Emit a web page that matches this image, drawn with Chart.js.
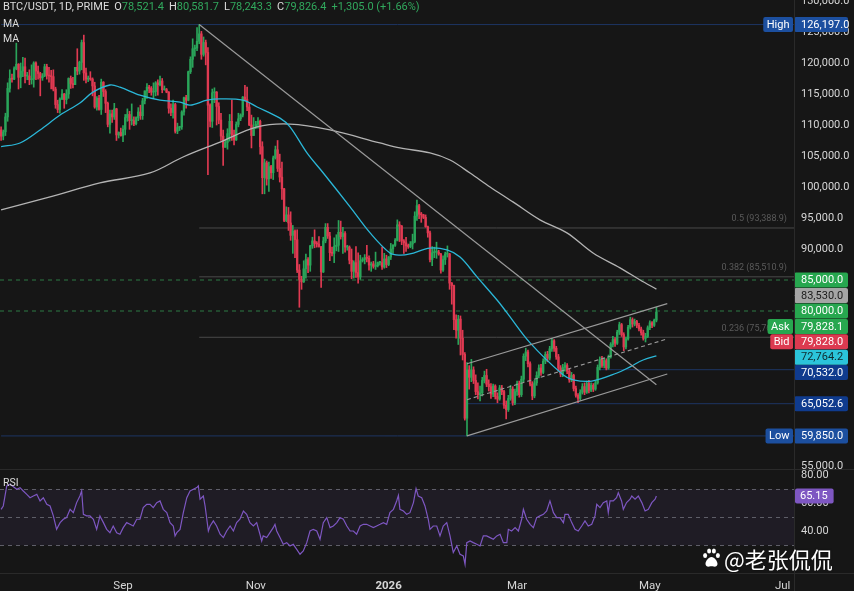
<!DOCTYPE html>
<html>
<head>
<meta charset="utf-8">
<title>BTC/USDT 1D</title>
<script src="https://cdn.jsdelivr.net/npm/chart.js@4.4.1/dist/chart.umd.min.js"></script>
<style>
html,body{margin:0;padding:0;background:#161616;}
#wrap{position:relative;width:854px;height:591px;overflow:hidden;background:#161616;font-family:Roboto,"Noto Sans",Arial,sans-serif;}
#wrap canvas{position:absolute;left:0;top:0;}
.t{position:absolute;left:3px;color:#dcdcdc;font-size:10.5px;line-height:12px;white-space:nowrap;}
#hdr{font-size:11px;}
.t .g{color:#31a85d;}
.t .k{margin-left:5px;}
#wm{position:absolute;left:702px;top:545px;height:26px;display:flex;align-items:center;color:#fff;font-family:"Noto Sans CJK SC",sans-serif;font-size:22px;line-height:26px;white-space:nowrap;text-shadow:0 0 2px rgba(0,0,0,.6);}
#wm svg{margin-right:3px;}
</style>
</head>
<body>
<div id="wrap">
  <canvas id="priceCanvas" width="854" height="591"></canvas>
  <canvas id="rsiCanvas" width="854" height="591"></canvas>
  <div class="t" id="hdr" style="top:1px"></div>
  <div class="t" style="top:18px">MA</div>
  <div class="t" style="top:33px">MA</div>
  <div class="t" style="top:477px">RSI</div>
  <div id="wm"><svg width="19" height="20" viewBox="0 0 18 20"><g fill="#fff"><ellipse cx="2.6" cy="7.5" rx="2" ry="2.6"/><ellipse cx="6.6" cy="3" rx="2" ry="2.6"/><ellipse cx="11.4" cy="3" rx="2" ry="2.6"/><ellipse cx="15.4" cy="7.5" rx="2" ry="2.6"/><path d="M9 9c-3 0-6 4-6 7 0 2 2 3 4 2.5 1.2-.3 2.8-.3 4 0 2 .5 4-.5 4-2.5 0-3-3-7-6-7z"/></g></svg>@老张侃侃</div>
</div>
<script>
// ---------------- DATA ----------------
const startDate = '2025-07-07';   // first daily candle

const opens = [
 // Jul 7-31
 109200,108200,108900,111300,115900,117500,117400,119100,119800,117700,118700,119400,117900,117900,117300,117400,120000,118700,118300,117600,117900,119400,118000,117900,117800,
 // Aug
 115800,113300,112500,114200,115000,114100,115000,117500,116700,116500,119300,118700,120100,123300,118400,117400,117500,117400,116300,112900,114300,112500,116900,115400,113500,110100,111800,111300,112600,108400,108800,
 // Sep
 108300,109300,111200,111700,110700,110700,110200,111200,112100,111500,113900,115500,116100,115900,115300,115400,116800,116500,117100,115700,115700,115300,112700,112000,113300,109000,109600,109700,112100,114400,
 // Oct
 114000,118600,120600,122300,122400,123500,124700,121400,123300,121700,113200,110600,115200,115300,113000,110800,108200,106400,107200,108600,110600,108400,107600,110100,111000,111600,114500,114100,112900,110000,108300,
 // Nov
 109600,110100,110600,106500,101500,103900,101300,103300,102300,104700,106000,103000,101600,99700,94600,95500,94200,92200,92900,91500,86600,85100,84700,86800,88300,87400,90500,91300,90900,90800,
 // Dec
 90400,86300,91300,93500,92100,89400,89300,90400,90600,92700,92000,92500,90300,90300,88200,86400,87800,86200,85500,88100,88300,88600,88500,87400,87600,87200,87300,87800,87800,87100,88400,
 // Jan 2026
 87500,88700,90000,90600,91400,93900,93700,91300,91000,90500,90400,90800,91200,95300,97000,95600,95500,95100,93600,92600,88300,89400,89500,89500,89200,86600,88300,89200,89200,84500,84100,
 // Feb
 78600,76900,78700,75600,73000,62700,70500,69300,70500,68800,67000,66500,66800,68800,69600,68200,67800,66600,67900,66200,65800,67600,67000,64800,64100,65900,67400,65200,
 // Mar
 67000,68300,66500,69000,72700,73400,71500,68200,66300,68400,69600,70800,70100,71900,73000,72400,73900,75200,74000,72600,70800,69800,70900,71200,70300,68900,69600,67500,66400,65900,66900,
 // Apr
 67800,66900,68300,67200,68000,67400,68400,70900,72200,71200,72000,70800,72600,74600,75400,74800,76600,77800,76200,74200,75500,77400,78600,77900,78300,77700,77100,76500,75600,75900,
 // May 1-4
 77300,78100,77700,78521.4
];
const highs = [
 109700,109200,111900,116800,118900,118200,119400,123200,119900,120000,120900,120800,118500,118900,119700,120200,120200,119500,118500,118300,119800,119800,119300,118800,118900,
 116100,114000,114400,115700,115100,115700,117600,117900,117700,119300,122300,120300,123700,124500,119200,117900,118600,117600,116900,114600,114800,117400,117000,115700,113700,112400,112400,113500,112700,108900,109500,
 109900,111700,112600,112200,113400,111300,111300,112800,113200,114300,115500,116700,116400,116200,116800,117000,117300,117900,117500,116300,115900,115400,113400,114000,113500,110300,109800,112300,114500,114800,
 118700,121000,123900,122900,125700,126197,125100,124200,123700,122500,113400,115800,116000,115400,113600,111900,109200,107500,109400,111700,114000,109200,110500,111900,111800,114600,116400,116100,113600,111600,111200,
 110600,111200,110800,107300,104500,104200,104000,103500,105000,106600,107500,105300,104000,99800,96800,96700,96000,93800,93100,93100,87500,85600,88100,89200,88600,90600,91900,93100,91200,92000,
 90400,91900,94100,94100,92700,90300,91800,92300,94600,94500,93500,92800,90600,90500,90000,88100,90400,89400,89000,88600,89100,90600,88900,87900,88000,89500,87900,88000,90300,89300,89000,
 88800,90900,90700,91700,94700,94400,93800,91500,91900,90800,91200,92400,96000,97900,97200,95900,95600,95500,93700,92900,90400,90300,91100,89800,89300,88900,89500,90500,89300,84600,84200,
 79400,79300,79200,76900,73300,71700,71200,72200,71000,69700,68400,67900,69300,70300,70600,68900,68300,68200,68100,66800,68000,68000,67200,65500,66400,68000,67800,67400,
 68700,68700,69500,73100,74000,73700,71800,68600,68800,70200,71300,71400,72300,73400,73500,74300,75600,75400,74300,73000,71200,71400,71700,71500,70700,70100,69800,67900,66700,67300,68300,
 68400,68700,68800,68400,68300,68700,71300,72600,72700,72400,72300,72900,74900,75900,75700,76900,78200,78000,76500,75800,77700,79000,78900,78700,78500,78000,77400,76900,76400,77600,
 78400,78300,78700,80581.7
];
const lows = [
 107500,107600,108300,110600,115300,116900,117300,118900,115800,116000,117800,116800,117300,116500,116600,116100,117300,117400,114700,117200,117800,117400,116900,115800,115500,
 112700,112000,111900,114100,112700,113400,114300,115900,116000,116500,118100,118200,118900,117200,116800,117000,117200,114700,112700,112400,112400,111700,114600,112000,109700,108700,110400,110900,107500,107900,108200,
 107300,108400,110600,109300,110000,109900,110000,110700,110900,110900,113400,114300,115200,114800,114400,114700,114800,116300,115200,115600,115200,111900,111500,111100,108700,108600,109100,109300,111600,112700,
 113900,118300,119300,121100,122000,123100,120600,121100,119700,102000,109700,109600,113600,110000,110200,107500,103500,106400,106100,107400,107500,106800,107500,109700,110700,111300,113900,112300,109900,106300,108300,
 109400,109500,105300,98900,98900,100300,99300,101400,101200,104500,102500,100800,98000,94400,94400,93000,91400,89300,88600,86200,80600,83500,84600,85300,86200,86400,90100,90200,90300,90300,
 83800,86200,91000,91700,88100,88900,87800,89700,89600,91600,89300,89500,89800,87600,85200,85300,85400,84500,85100,87900,87600,87900,86600,86400,86900,86700,87100,87400,86700,86900,87000,
 87300,88300,89300,90400,91300,91200,90700,89300,89600,90100,90200,90000,91000,94600,94900,94300,94900,93500,91900,87900,87300,88600,88500,89000,86100,86400,87500,88700,83500,81100,77000,
 75600,74600,72900,72100,62400,59850,67400,68600,68300,66500,65800,65500,66300,68400,67800,67100,65900,66200,65800,65200,65600,66500,64300,62600,63800,65600,64800,64900,
 66400,66100,66200,68600,72000,71000,67900,65700,66000,68000,69200,69600,69900,71500,71800,72100,73500,73500,72200,70300,69400,69400,70300,69900,68500,68600,67100,66100,65200,65600,66600,
 66500,66700,66800,67000,67000,67200,68200,70500,70900,70800,70500,70600,72400,74200,74300,74600,76200,75900,73600,73900,75300,77100,77400,77600,77300,76800,76100,75300,75000,75700,
 77000,77300,77500,78243.3
];
const closes = [
 108200,108900,111300,115900,117500,117400,119100,119800,117700,118700,119400,117900,117900,117300,117400,120000,118700,118300,117600,117900,119400,118000,117900,117800,115800,
 113300,112500,114200,115000,114100,115000,117500,116700,116500,119300,118700,120100,123300,118400,117400,117500,117400,116300,112900,114300,112500,116900,115400,113500,110100,111800,111300,112600,108400,108800,108300,
 109300,111200,111700,110700,110700,110200,111200,112100,111500,113900,115500,116100,115900,115300,115400,116800,116500,117100,115700,115700,115300,112700,112000,113300,109000,109600,109700,112100,114400,114000,
 118600,120600,122300,122400,123500,124700,121400,123300,121700,113200,110600,115200,115300,113000,110800,108200,106400,107200,108600,110600,108400,107600,110100,111000,111600,114500,114100,112900,110000,108300,109600,
 110100,110600,106500,101500,103900,101300,103300,102300,104700,106000,103000,101600,99700,94600,95500,94200,92200,92900,91500,86600,85100,84700,86800,88300,87400,90500,91300,90900,90800,90400,
 86300,91300,93500,92100,89400,89300,90400,90600,92700,92000,92500,90300,90300,88200,86400,87800,86200,85500,88100,88300,88600,88500,87400,87600,87200,87300,87800,87800,87100,88400,87500,
 88700,90000,90600,91400,93900,93700,91300,91000,90500,90400,90800,91200,95300,97000,95600,95500,95100,93600,92600,88300,89400,89500,89500,89200,86600,88300,89200,89200,84500,84100,78600,
 76900,78700,75600,73000,62700,70500,69300,70500,68800,67000,66500,66800,68800,69600,68200,67800,66600,67900,66200,65800,67600,67000,64800,64100,65900,67400,65200,67000,
 68300,66500,69000,72700,73400,71500,68200,66300,68400,69600,70800,70100,71900,73000,72400,73900,75200,74000,72600,70800,69800,70900,71200,70300,68900,69600,67500,66400,65900,66900,67800,
 66900,68300,67200,68000,67400,68400,70900,72200,71200,72000,70800,72600,74600,75400,74800,76600,77800,76200,74200,75500,77400,78600,77900,78300,77700,77100,76500,75600,75900,77300,
 78100,77700,78521.4,79826.4
];

// moving averages as [days since 2025-09-01, price]
const maFastPts = [[-56,106500],[-47.3,107100],[-38.1,109200],[-28.9,111600],[-19.8,113550],[-13.8,115300],[-6,116450],[-1.4,116100],[7.8,114800],[17,114000],[26.2,113700],[30.8,113200],[38.6,114000],[44.6,114200],[55.1,114000],[61.6,112900],[72.1,111100],[76.7,109700],[84.5,105500],[91.9,102300],[104.3,96800],[113.5,92600],[122.6,89350],[127.2,89000],[131.8,89200],[141,90150],[148.8,89840],[154.8,88700],[162.6,85500],[171.8,81770],[176.4,79700],[187,74850],[202.1,69700],[206.7,68900],[215.4,68700],[226.9,70000],[232.9,71000],[238.9,72100],[245,72764.2]];
const maSlowPts = [[-56,96300],[-33.5,98400],[-10.6,100650],[12.4,102260],[27.6,104840],[44.6,107250],[61.6,109700],[76.7,110150],[95.1,109200],[118,107100],[127.2,106300],[141,105500],[150.2,104350],[159.4,102250],[168.6,100000],[179.1,97600],[191.5,94700],[203.9,92600],[215.9,89350],[228.3,86950],[237.5,85000],[245,83530]];

// RSI as [days since 2025-09-01, value]
const rsiPts = [[-56,55.7],[-55,58.1],[-53.4,72.4],[-51.9,73.6],[-48.8,70],[-47.3,71.2],[-45.8,68.8],[-44.2,66.4],[-42.7,64],[-41.2,65.2],[-39.6,66.4],[-38.1,61.7],[-36.6,64],[-35,59.3],[-33.5,58.1],[-32,51],[-30.5,41.4],[-28.9,46.2],[-27.4,48.6],[-25.9,49.8],[-24.3,55.7],[-22.8,53.3],[-21.3,60.5],[-19.8,65.2],[-19,68.8],[-18.2,52.1],[-16.7,51],[-15.2,51],[-13.6,48.6],[-12.1,41.4],[-10.6,51],[-9,46.2],[-7.5,41.4],[-6,39],[-4.5,43.8],[-2.9,39],[-1.4,37.9],[0.1,42.6],[1.7,46.2],[3.2,45],[4.7,43.8],[6.3,48.6],[7.8,48.6],[9.3,56.9],[10.9,59.3],[12.4,59.3],[13.9,56.9],[15.5,60.5],[17,61.7],[18.5,55.7],[20.1,53.3],[21.6,46.2],[23.1,43.8],[23.9,36.7],[24.7,39],[26.2,41.4],[27.7,53.3],[29.3,64],[30.8,68.8],[32.3,70],[33.9,71.2],[34.6,72.4],[35.4,62.9],[36.9,65.2],[37.7,58.1],[39.2,40.2],[40,43.8],[41.5,47.4],[43,43.8],[44.6,37.9],[46.1,35.5],[47.6,40.2],[49.2,43.8],[50.7,40.2],[52.2,46.2],[53.7,48.6],[55.3,54.5],[56.8,52.1],[58.3,46.2],[59.9,43.8],[61.4,46.2],[62.9,37.9],[63.7,33.1],[64.4,36.7],[66,35.5],[67.5,39],[69,42.6],[69.8,45],[70.6,40.2],[72.1,35.5],[73.6,30.7],[75.2,31.9],[76.7,29.5],[78.2,30.7],[79.8,27.1],[81.3,23.6],[82.8,26],[84.4,31.9],[85.9,40.2],[87.4,41.4],[89,40.2],[90.5,34.3],[92,46.2],[93.6,49.8],
 [95.1,42.6],[96.6,43.8],[98.2,46.2],[99.7,49.8],[101.2,48.6],[102.8,43.8],[104.3,40.2],[105.8,40.2],[107.3,37.9],[108.9,43.8],[110.4,45],[111.9,45],[113.5,43.8],[115,42.6],[116.5,43.8],[118.1,45],[119.6,46.2],[121.1,45],[122.6,53.3],[124.2,55.7],[125.7,61.7],[126.5,65.7],[127.2,55.7],[128.8,54.5],[130.3,52.1],[131.8,53.3],[133.4,60.5],[134.6,70.5],[135.6,65.2],[137.2,64],[138.7,58.1],[140.2,48.6],[141,41.4],[142.5,43.8],[144.1,43.8],[145.6,36.7],[147.1,43.8],[148.7,46.2],[150.2,36.7],[151.7,24.8],[153.3,29.5],[154.8,23.6],[156.3,22.4],[157.1,16.4],[157.9,31.9],[159.4,33.1],[160.9,31.9],[162.5,30.7],[164,29.5],[165.5,36.7],[167,36.7],[168.6,35.5],[170.1,34.3],[171.7,36.7],[173.2,37.9],[174.7,31.9],[176.3,31.9],[177,41.4],[178.5,40.2],[180.1,42.6],[181.6,40.2],[183.1,48.6],[183.9,55.7],[185.4,48.6],[187,45],[188.5,42.6],[190,49.8],[191.5,51],[193.1,52.1],[194.6,54.5],[196.1,61.7],[197.7,53.3],[199.2,49.8],[200.7,49.8],[202.3,46.2],[203,52.1],[204.5,52.1],[206.1,46.2],[207.6,41.4],[209.1,40.2],[210.7,43.8],[212.2,47.4],[213.7,43.8],[215.3,45],[216.8,51],[217.6,59.3],[219.1,56.9],[220.6,60.5],[222.2,61.7],[222.9,53.3],[223.7,61.7],[225.2,61.7],[226.7,64],[227.5,67.6],[229,61.7],[229.8,55.7],[231.3,60.5],[232.9,62.9],[233.7,65.2],[235.2,62.9],[236.7,65.2],[238.3,60.5],[239.8,54.5],[241.3,55.7],[242.9,60.5],[244.4,62.9],[245,65.15]];

const priceTicks = [55000,60000,65000,70000,75000,80000,85000,90000,95000,100000,105000,110000,115000,120000,125000,130000];
const rsiTicks = [40,60,80];
const rsiGuides = [70,50,30];
const rsiBand = [70,30];
const monthDates = ['2025-09-01','2025-11-01','2026-01-01','2026-03-01','2026-05-01','2026-07-01'];
const monthLabels = ['Sep','Nov','2026','Mar','May','Jul'];

// Fibonacci retracement levels
const fibRatios = ['0.5','0.382','0.236'];
const fibValues = [93388.9,85510.9,75762.9];
const fibFrom = '2025-10-06';
// alert lines (dashed green)
const alertValues = [85000,80000];
// horizontal price levels (navy)
const levelValues = [126197.0,70532.0,65052.6,59850.0];
const levelFrom = ['2025-07-07','2026-04-08','2026-02-06','2025-07-07'];
// trend lines and channel: [date, price]
const trendDown = [['2025-10-06',126197],['2026-05-04',68100]];
const channelUpper = [['2026-02-06',71500],['2026-05-09',81200]];
const channelMid = [['2026-02-06',65700],['2026-05-09',75500]];
const channelLower = [['2026-02-06',59850],['2026-05-09',69840]];

// right-axis price tags
const badgeValues = [126197.0,85000.0,83530.0,80000.0,79828.1,79828.0,72764.2,70532.0,65052.6,59850.0];
const badgeTags = ['High','','','','Ask','Bid','','','','Low'];
const badgeKinds = ['extreme','alert','maSlow','alert','ask','bid','maFast','level','level','extreme'];

// ---------------- VIEW / STYLE ----------------
const DAY = 86400000, BASE = Date.UTC(2025,8,1);
const dayOf = iso => (Date.parse(iso+'T00:00:00Z') - BASE) / DAY;
const xMin = dayOf(startDate) - 0.5, xMax = xMin + 364.7;
const priceMin = 54355, priceMax = 130161;
const rsiMin = 10.2, rsiMax = 83.8;
const UP = '#2aa55a', DOWN = '#e03a52';
const kindStyle = {
  extreme:{bg:'#1c4f9f',fg:'#ffffff'}, alert:{bg:'#27a74f',fg:'#ffffff'}, maSlow:{bg:'#a5a5a5',fg:'#1b1b1b'},
  ask:{bg:'#27a74f',fg:'#ffffff'}, bid:{bg:'#dc3a50',fg:'#ffffff'}, maFast:{bg:'#2bc4da',fg:'#102a2e'},
  level:{bg:'#0f3b8e',fg:'#ffffff'}
};
const f1 = v => Number(v).toLocaleString('en-US',{minimumFractionDigits:1,maximumFractionDigits:1});
Chart.defaults.font.family = 'Roboto, "Noto Sans", Arial, sans-serif';
Chart.defaults.color = '#d6d6d6';

// ---------------- header ----------------
(function(){
  const n = closes.length - 1;
  const chg = closes[n] - opens[n], pct = chg / opens[n] * 100;
  const sg = chg >= 0 ? '+' : '';
  document.getElementById('hdr').innerHTML =
    'BTC/USDT, 1D, PRIME' +
    '<span class="k">O<span class="g">' + f1(opens[n]) + '</span></span>' +
    '<span class="k">H<span class="g">' + f1(highs[n]) + '</span></span>' +
    '<span class="k">L<span class="g">' + f1(lows[n]) + '</span></span>' +
    '<span class="k">C<span class="g">' + f1(closes[n]) + '</span></span>' +
    '<span class="k g">' + sg + f1(chg) + ' (' + sg + pct.toFixed(2) + '%)</span>';
})();

// ---------------- helpers ----------------
const x0 = dayOf(startDate);
const days = closes.map((_, i) => x0 + i);
const candleColors = closes.map((c, i) => c >= opens[i] ? UP : DOWN);
const seg = pts => pts.map(([d, v]) => ({x: dayOf(d), y: v}));
const pairs = pts => pts.map(([d, v]) => ({x: d, y: v}));
function lineDs(data, color, width, dash, order){
  return {type:'line', data, borderColor:color, borderWidth:width, borderDash:dash || [], pointRadius:0, tension:0, order, parsing:true};
}
function roundRect(ctx,x,y,w,h,r){ctx.beginPath();ctx.moveTo(x+r,y);ctx.arcTo(x+w,y,x+w,y+h,r);ctx.arcTo(x+w,y+h,x,y+h,r);ctx.arcTo(x,y+h,x,y,r);ctx.arcTo(x,y,x+w,y,r);ctx.closePath();}

const hDatasets = [];
fibValues.forEach(v => hDatasets.push(lineDs([{x:dayOf(fibFrom),y:v},{x:xMax,y:v}], '#4a4a4a', 1, null, 20)));
alertValues.forEach(v => hDatasets.push(lineDs([{x:xMin,y:v},{x:xMax,y:v}], '#2d7a44', 1, [4,4], 20)));
levelValues.forEach((v, i) => hDatasets.push(lineDs([{x:dayOf(levelFrom[i]),y:v},{x:xMax,y:v}], '#1d3563', 1, null, 20)));

// ---------------- price chart ----------------
const pricePlugin = {
  id:'pricePlugin',
  afterDatasetsDraw(chart){
    const {ctx, chartArea:a, scales:{y}} = chart;
    ctx.save();
    ctx.font = '9px Roboto, "Noto Sans", sans-serif';
    ctx.fillStyle = '#5a5a5a'; ctx.textAlign = 'right'; ctx.textBaseline = 'middle';
    fibValues.forEach((v, i) => ctx.fillText(fibRatios[i] + ' (' + f1(v) + ')', a.right - 7, y.getPixelForValue(v) - 9));
    ctx.restore();
  },
  afterDraw(chart){
    const {ctx, chartArea:a, scales:{y}} = chart;
    const H = 15, step = 15.4;
    const idx = badgeValues.map((_, i) => i).sort((i, j) => badgeValues[j] - badgeValues[i]);
    let prev = -1e9;
    ctx.save();
    ctx.font = '11px Roboto, "Noto Sans", sans-serif'; ctx.textBaseline = 'middle';
    idx.forEach(i => {
      const yc = Math.max(y.getPixelForValue(badgeValues[i]), prev + step); prev = yc;
      const st = kindStyle[badgeKinds[i]];
      ctx.fillStyle = st.bg; roundRect(ctx, a.right, yc - H/2, 54, H, 2); ctx.fill();
      ctx.fillStyle = st.fg; ctx.textAlign = 'left'; ctx.fillText(f1(badgeValues[i]), a.right + 7, yc + 0.5);
      if (badgeTags[i]) {
        const tw = ctx.measureText(badgeTags[i]).width + 7;
        ctx.fillStyle = st.bg; roundRect(ctx, a.right - 1 - tw, yc - H/2, tw, H, 2); ctx.fill();
        ctx.fillStyle = st.fg; ctx.textAlign = 'center'; ctx.fillText(badgeTags[i], a.right - 1 - tw/2, yc + 0.5);
      }
    });
    ctx.restore();
  }
};

new Chart(document.getElementById('priceCanvas'), {
  type:'bar',
  data:{ datasets:[
    ...hDatasets,
    {type:'bar', label:'wick', data:days.map((d, i) => ({x:d, y:[lows[i], highs[i]]})), backgroundColor:candleColors, barThickness:1, grouped:false, order:9},
    {type:'bar', label:'body', data:days.map((d, i) => ({x:d, y:[opens[i], closes[i]]})), backgroundColor:candleColors, barThickness:1.7, minBarLength:1, grouped:false, order:8},
    {...lineDs(pairs(maSlowPts), '#b3b3b3', 1.3, null, 5), tension:0.35},
    {...lineDs(pairs(maFastPts), '#2bb7d8', 1.3, null, 4), tension:0.35},
    lineDs(seg(trendDown), '#9a9a9a', 1.2, null, 2),
    lineDs(seg(channelUpper), '#9a9a9a', 1.2, null, 2),
    lineDs(seg(channelLower), '#9a9a9a', 1.2, null, 2),
    lineDs(seg(channelMid), '#9a9a9a', 1.1, [4,3], 2)
  ]},
  options:{
    responsive:false, animation:false, events:[],
    layout:{padding:{top:0,left:0,right:0,bottom:121}},
    plugins:{legend:{display:false}, tooltip:{enabled:false}},
    scales:{
      x:{type:'linear', min:xMin, max:xMax, offset:false, display:false, grid:{display:false}},
      y:{type:'linear', position:'right', min:priceMin, max:priceMax, beginAtZero:false,
         grid:{display:false, drawTicks:false}, border:{display:false},
         afterBuildTicks(s){ s.ticks = priceTicks.map(v => ({value:v})); },
         afterFit(s){ s.width = 60; s.paddingTop = 0; s.paddingBottom = 0; },
         ticks:{autoSkip:false, padding:7, color:'#d6d6d6', font:{size:11}, callback:v => f1(v)}}
    }
  },
  plugins:[pricePlugin]
});

// ---------------- RSI chart ----------------
const rsiPlugin = {
  id:'rsiPlugin',
  beforeDatasetsDraw(chart){
    const {ctx, chartArea:a, scales:{y}} = chart;
    const yA = y.getPixelForValue(rsiBand[0]), yB = y.getPixelForValue(rsiBand[1]);
    ctx.save();
    ctx.fillStyle = 'rgba(126,87,194,0.09)'; ctx.fillRect(a.left, yA, a.right - a.left, yB - yA);
    ctx.strokeStyle = '#5e5e68'; ctx.lineWidth = 1; ctx.setLineDash([4,4]);
    rsiGuides.forEach(v => { const yy = Math.round(y.getPixelForValue(v)) + 0.5; ctx.beginPath(); ctx.moveTo(a.left, yy); ctx.lineTo(a.right, yy); ctx.stroke(); });
    ctx.restore();
  },
  afterDraw(chart){
    const {ctx, chartArea:a, scales:{y}} = chart;
    ctx.save();
    ctx.strokeStyle = '#2a2a2a'; ctx.lineWidth = 1;
    ctx.beginPath();
    ctx.moveTo(0, a.top - 0.5); ctx.lineTo(chart.width, a.top - 0.5);
    ctx.moveTo(0, a.bottom + 0.5); ctx.lineTo(chart.width, a.bottom + 0.5);
    ctx.moveTo(a.right + 0.5, 0); ctx.lineTo(a.right + 0.5, chart.height);
    ctx.stroke();
    const last = rsiPts[rsiPts.length - 1][1];
    const yc = y.getPixelForValue(last);
    ctx.font = '11px Roboto, "Noto Sans", sans-serif';
    const txt = last.toFixed(2), w = ctx.measureText(txt).width + 11;
    ctx.fillStyle = '#7e57c2'; roundRect(ctx, a.right + 1, yc - 7.5, w, 15, 2); ctx.fill();
    ctx.fillStyle = '#ffffff'; ctx.textAlign = 'left'; ctx.textBaseline = 'middle';
    ctx.fillText(txt, a.right + 6, yc + 0.5);
    ctx.restore();
  }
};

new Chart(document.getElementById('rsiCanvas'), {
  type:'line',
  data:{ datasets:[
    {data:pairs(rsiPts), borderColor:'#7e57c2', borderWidth:1.2, pointRadius:0, tension:0}
  ]},
  options:{
    responsive:false, animation:false, events:[],
    layout:{padding:{top:470,left:0,right:0,bottom:0}},
    plugins:{legend:{display:false}, tooltip:{enabled:false}},
    scales:{
      x:{type:'linear', min:xMin, max:xMax, offset:false, grid:{display:false, drawTicks:false}, border:{display:false},
         afterBuildTicks(s){ s.ticks = monthDates.map(d => ({value:dayOf(d)})); },
         afterFit(s){ s.height = 18; s.paddingLeft = 0; s.paddingRight = 0; },
         ticks:{autoSkip:false, maxRotation:0, padding:6, color:'#d6d6d6',
                font:c => ({size:11.5, weight:(c.tick && c.tick.value === dayOf('2026-01-01')) ? 'bold' : 'normal'}),
                callback:(v, i) => monthLabels[i]}},
      y:{type:'linear', position:'right', min:rsiMin, max:rsiMax,
         grid:{display:false, drawTicks:false}, border:{display:false},
         afterBuildTicks(s){ s.ticks = rsiTicks.map(v => ({value:v})); },
         afterFit(s){ s.width = 60; s.paddingTop = 0; s.paddingBottom = 0; },
         ticks:{autoSkip:false, padding:7, color:'#d6d6d6', font:{size:11}, callback:v => Number(v).toFixed(2)}}
    }
  },
  plugins:[rsiPlugin]
});
</script>
</body>
</html>
